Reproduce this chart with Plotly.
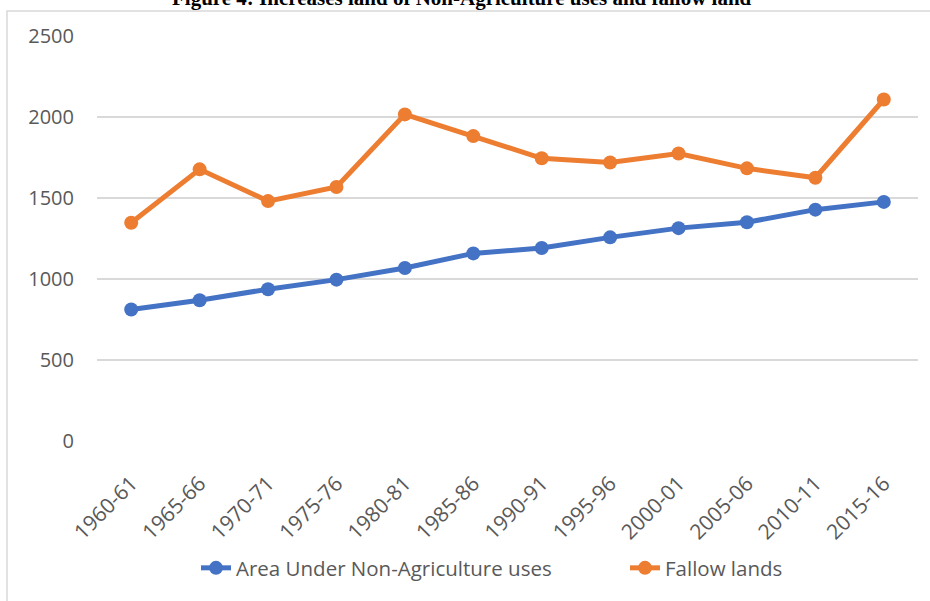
import plotly.graph_objects as go

periods = ["1960-61", "1965-66", "1970-71", "1975-76", "1980-81", "1985-86",
           "1990-91", "1995-96", "2000-01", "2005-06", "2010-11", "2015-16"]
non_agri = [812, 869, 937, 996, 1068, 1158, 1191, 1257, 1314, 1350, 1428, 1476]
fallow = [1347, 1677, 1481, 1568, 2016, 1882, 1745, 1719, 1775, 1683, 1625, 2108]
y_ticks = [0, 500, 1000, 1500, 2000, 2500]

W, H = 930, 601
L, R, T, B = 97, 12, 36, 160
pw, ph = W - L - R, H - T - B

def px_x(p):
    return (p - L) / pw

def px_y(p):
    return (H - B - p) / ph

FONT = "Open Sans"
LEG_FONT = dict(family=FONT, size=20.5, color="#595959")

fig = go.Figure()
fig.add_trace(go.Scatter(
    x=periods, y=non_agri, name="Area Under Non-Agriculture uses",
    mode="lines+markers",
    line=dict(color="#4472C4", width=5),
    marker=dict(color="#4472C4", size=14),
    legend="legend",
))
fig.add_trace(go.Scatter(
    x=periods, y=fallow, name="Fallow lands",
    mode="lines+markers",
    line=dict(color="#ED7D31", width=5),
    marker=dict(color="#ED7D31", size=14),
    legend="legend2",
))

fig.update_layout(
    width=W, height=H,
    margin=dict(l=L, r=R, t=T, b=B, pad=0, autoexpand=False),
    paper_bgcolor="white", plot_bgcolor="white",
    font=dict(family=FONT, size=20, color="#595959"),
    showlegend=True,
    legend=dict(orientation="h", x=px_x(196), xanchor="left", y=px_y(568), yanchor="middle",
                font=LEG_FONT, bgcolor="rgba(0,0,0,0)"),
    legend2=dict(orientation="h", x=px_x(625), xanchor="left", y=px_y(568), yanchor="middle",
                 font=LEG_FONT, bgcolor="rgba(0,0,0,0)"),
    xaxis=dict(type="category", range=[-0.5, 11.5], tickangle=-45,
               showgrid=False, zeroline=False, showline=False, ticks="",
               ticklabelstandoff=25,
               tickfont=dict(family=FONT, size=21, color="#595959")),
    yaxis=dict(range=[0, 2500], tickvals=y_ticks, showgrid=True,
               gridcolor="#D9D9D9", gridwidth=1.5, zeroline=False, showline=False,
               ticks="", ticklabelstandoff=22,
               tickfont=dict(family=FONT, size=20, color="#595959")),
    shapes=[dict(type="rect", xref="paper", yref="paper",
                 x0=px_x(7), x1=px_x(1000), y0=px_y(700), y1=px_y(11),
                 line=dict(color="#D9D9D9", width=1.5), fillcolor="rgba(0,0,0,0)",
                 layer="below")],
    annotations=[dict(text="<b>Figure 4: Increases land of Non-Agriculture uses and fallow land</b>",
                      xref="paper", yref="paper", x=px_x(462), y=px_y(12),
                      xanchor="center", yanchor="bottom", showarrow=False,
                      font=dict(family="Liberation Serif", size=21, color="black"))],
)

fig.write_html("out.html")
